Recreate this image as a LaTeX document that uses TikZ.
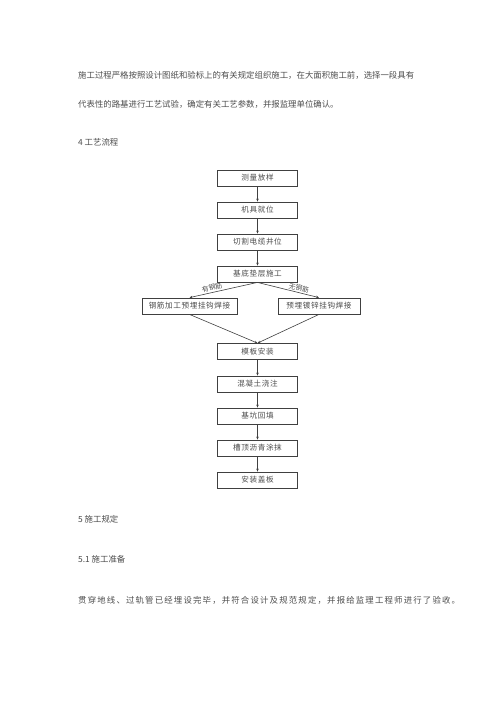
\documentclass[tikz,border=0pt]{standalone}
\usepackage{fontspec}
\newfontfamily\cjk{Noto Sans CJK SC}
\newfontfamily\cjkwide[LetterSpace=14]{Noto Sans CJK SC}
\newfontfamily\cjkbox[LetterSpace=8]{Noto Sans CJK SC}
\usetikzlibrary{arrows.meta}
\definecolor{txt}{gray}{0.3}
\definecolor{ln}{gray}{0.25}
\tikzset{
  para/.style={anchor=west,inner sep=0pt,text=txt,font=\cjk\fontsize{8.4}{10}\selectfont},
  stepbox/.style={draw=ln,line width=0.8pt,minimum width=80pt,minimum height=16pt,inner sep=0pt,text=txt,font=\cjkbox\fontsize{7.6}{9}\selectfont},
  flow/.style={draw=ln,line width=0.6pt,-{Stealth[length=3pt,width=2.5pt]}},
  lbl/.style={inner sep=0pt,text=txt,font=\cjk\fontsize{6.8}{8}\selectfont}
}
\begin{document}
\begin{tikzpicture}[x=1pt,y=-1pt]
\useasboundingbox (0,0) rectangle (500,707);
\node[para] (p1) at (78,75) {施工过程严格按照设计图纸和验标上的有关规定组织施工，在大面积施工前，选择一段具有};
\node[para] (p2) at (78,104) {代表性的路基进行工艺试验，确定有关工艺参数，并报监理单位确认。};
\node[para] (h4) at (78,142) {4 工艺流程};
\node[para] (h5) at (78,519) {5 施工规定};
\node[para] (h51) at (78,559) {5.1 施工准备};
\node[para,font=\cjkwide\fontsize{8.4}{10}\selectfont] (p3) at (78,600) {贯穿地线、过轨管已经埋设完毕，并符合设计及规范规定，并报给监理工程师进行了验收。};

\node[stepbox] (b1) at (257.5,178) {测量放样};
\node[stepbox] (b2) at (257.5,210) {机具就位};
\node[stepbox] (b3) at (257.5,242) {切割电缆井位};
\node[stepbox] (b4) at (257.5,274) {基底垫层施工};
\node[stepbox,minimum width=95pt] (bl) at (189.5,306) {钢筋加工预埋挂钩焊接};
\node[stepbox,minimum width=82pt] (br) at (319,306) {预埋镀锌挂钩焊接};
\node[stepbox] (b5) at (257.5,351.5) {模板安装};
\node[stepbox] (b6) at (257.5,384) {混凝土浇注};
\node[stepbox] (b7) at (257.5,416) {基坑回填};
\node[stepbox] (b8) at (257.5,448) {槽顶沥青涂抹};
\node[stepbox] (b9) at (257.5,480) {安装盖板};

\draw[flow] (b1) -- (b2);
\draw[flow] (b2) -- (b3);
\draw[flow] (b3) -- (b4);
\draw[flow] (b4.south) -- (bl.north);
\draw[flow] (b4.south) -- (br.north);
\draw[flow] (bl.south) -- (b5.north);
\draw[flow] (br.south) -- (b5.north);
\draw[flow] (b5) -- (b6);
\draw[flow] (b6) -- (b7);
\draw[flow] (b7) -- (b8);
\draw[flow] (b8) -- (b9);

\node[lbl,rotate=13] (l1) at (212,287.5) {有钢筋};
\node[lbl,rotate=-13] (l2) at (299,288) {无钢筋};
\end{tikzpicture}
\end{document}
